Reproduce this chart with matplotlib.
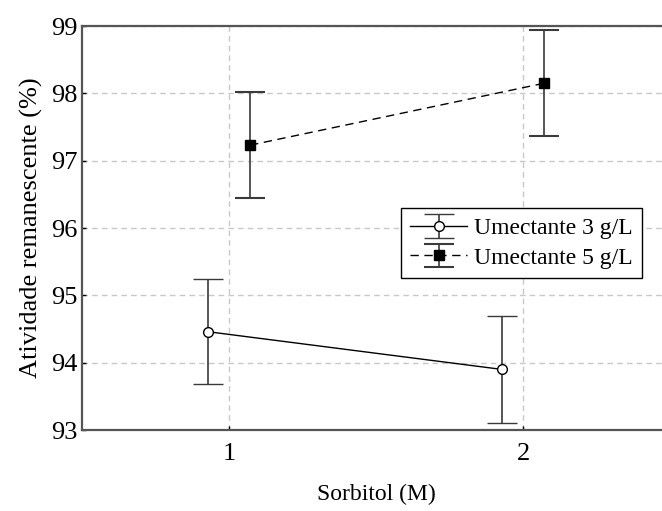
import matplotlib
matplotlib.use("Agg")
import matplotlib.pyplot as plt

plt.rcParams['font.family'] = ['Liberation Serif', 'DejaVu Serif']

# Sorbitol concentration levels (M)
sorbitol = [1, 2]
# Remaining activity (%) and error half-widths for each humectant level
umect3_mean = [94.46, 93.90]
umect3_err = [0.78, 0.80]
umect5_mean = [97.23, 98.15]
umect5_err = [0.79, 0.79]
series_labels = ["Umectante 3 g/L", "Umectante 5 g/L"]

offset = 0.072

fig = plt.figure(figsize=(6.62, 5.11), dpi=100)
ax = fig.add_axes([82/662, 1 - 430/511, 588/662, 404/511])

x3 = [s - offset for s in sorbitol]
x5 = [s + offset for s in sorbitol]

ax.errorbar(x3, umect3_mean, yerr=umect3_err, fmt='-o', color='black',
            lw=1, ms=7, mfc='white', mec='black', mew=1,
            ecolor='#3a3a3a', elinewidth=1.2, capsize=11, capthick=1.5,
            label=series_labels[0], zorder=3)
ax.errorbar(x5, umect5_mean, yerr=umect5_err, fmt='--s', color='black',
            lw=1, ms=7, mfc='black', mec='black', dashes=(6, 4),
            ecolor='#3a3a3a', elinewidth=1.2, capsize=11, capthick=1.5,
            label=series_labels[1], zorder=3)

ax.set_xlim(0.5, 2.5)
ax.set_ylim(93, 99)
ax.set_xticks(sorbitol)
ax.set_yticks(range(93, 100))
ax.tick_params(axis='both', labelsize=19, length=3, width=1, direction='in')
ax.tick_params(axis='x', pad=9)
ax.tick_params(axis='y', pad=3)

ax.grid(True, linestyle=(0, (4, 3)), color='#c8c8c8', lw=1)
ax.set_axisbelow(True)
for side in ['left', 'bottom', 'top']:
    ax.spines[side].set_color('#555555')
    ax.spines[side].set_linewidth(1.6)
ax.spines['right'].set_visible(False)

ax.set_xlabel("Sorbitol (M)", fontsize=17, labelpad=14)
ax.set_ylabel("Atividade remanescente (%)", fontsize=19, labelpad=6)

leg = ax.legend(loc='upper left', bbox_to_anchor=((401-82)/588, (430-208)/404),
                fontsize=17, frameon=True, fancybox=False, edgecolor='black',
                framealpha=1, handlelength=2.4, handletextpad=0.3,
                borderpad=0.4, labelspacing=0.35, borderaxespad=0)
leg.get_frame().set_linewidth(1)

fig.savefig("out.png", dpi=100)
